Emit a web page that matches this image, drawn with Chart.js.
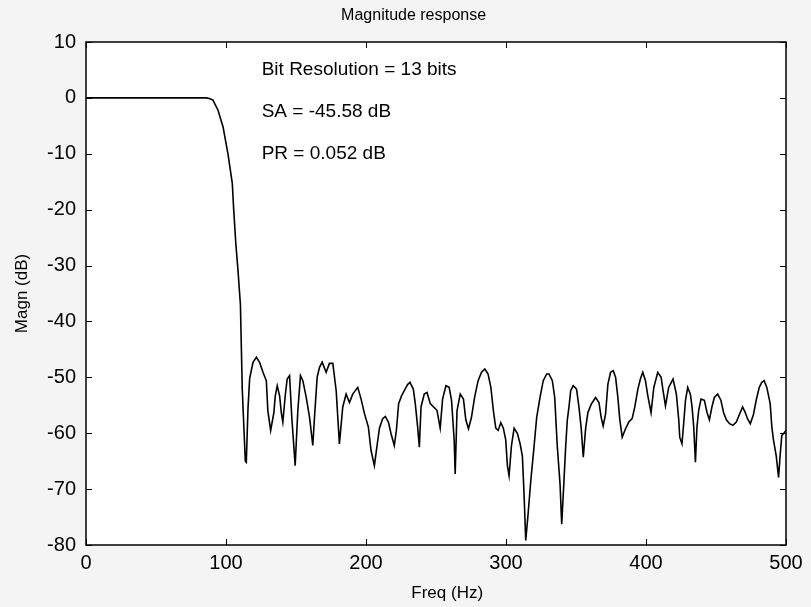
<!DOCTYPE html>
<html>
<head>
<meta charset="utf-8">
<script src="https://cdn.jsdelivr.net/npm/chart.js@4/dist/chart.umd.min.js"></script>
<style>
  html, body { margin: 0; padding: 0; background: #f4f4f4; }
  #wrap { width: 811px; height: 607px; }
</style>
</head>
<body>
<div id="wrap"><canvas id="magchart"></canvas></div>
<script>
// frequency axis (Hz) and magnitude (dB)
const freq = [0, 20, 40, 60, 80, 86, 88, 90.7, 94.3, 97.9, 101.4, 104.5, 105.5, 107, 108.6, 110.3, 111, 111.6, 112.6, 113.8, 114.5,
  115.7, 116.9, 119.3, 121.7, 124.0, 126.4, 128.8, 129.9, 131.9, 134.2, 135.2, 136.6, 138.3, 139.5, 140.6, 142.3, 143.7, 145.4, 147.0, 149.4,
  151.3, 153.2, 154.9, 157.3, 159.7, 162.0, 163.2, 165.1, 166.8, 168.7, 171.5, 173.9, 176.3, 178.7, 181.0, 183.4, 185.8, 188.2, 190.5, 194.1,
  196.5, 198.9, 201.7, 203.6, 206.0, 207.9, 209.6, 211.9, 213.8, 216.0, 217.9, 220.2, 221.7, 223.3, 225.4, 227.9, 229.7, 231.4, 233.8, 235.2,
  236.9, 238.1, 239.3, 241.6, 243.6, 245.9, 248.3, 250.7, 253.0, 254.7, 257.1, 259.4, 261.1, 263.0, 263.7, 265.0, 267.3, 269.6, 271.3, 273.2,
  275.3, 277.7, 280.1, 282.5, 284.9, 287.2, 289.2, 291.0, 292.7, 294.4, 296.3, 298.1, 299.8, 301.0, 302.2, 303.9, 305.8, 308.1, 310.0, 311.7,
  312.9, 314.1, 315.8, 317.7, 320.0, 321.9, 324.3, 326.6, 329.1, 330.7, 333.1, 334.8, 336.6, 338.6, 339.8, 341.4, 342.6, 343.8, 345.0, 346.2,
  348.0, 350.4, 352.1, 353.7, 355.2, 356.9, 358.5, 360.9, 364.0, 366.4, 368.0, 369.4, 371.1, 372.8, 374.7, 376.6, 378.3, 379.9, 381.3, 383.0,
  385.4, 387.7, 390.1, 392.0, 394.2, 396.1, 397.7, 399.6, 401.3, 403.6, 405.6, 408.4, 410.8, 412.2, 413.9, 416.2, 419.3, 421.7, 423.4, 424.1,
  425.7, 426.9, 428.2, 429.8, 431.7, 432.9, 434.1, 435.3, 436.4, 437.6, 439.3, 441.7, 443.6, 445.3, 447.1, 448.8, 451.2, 453.5, 455.4, 457.4,
  459.7, 462.1, 464.5, 466.8, 469.0, 470.9, 472.5, 474.5, 476.8, 478.7, 480.9, 482.7, 484.4, 486.3, 488.7, 489.9, 491.1, 493.0, 494.7, 495.9,
  497.0, 498.2, 500];
const magn = [0, 0, 0, 0, 0, 0, -0.1, -0.4, -2.2, -5.2, -10, -15.3, -20, -26, -31, -37, -45, -52, -58, -65, -65.2,
  -55.6, -50.2, -47.3, -46.4, -47.3, -49.1, -50.6, -56, -59.5, -56.3, -53.3, -51.5, -53.3, -56.3, -58, -53.3, -50.3, -49.7, -57.2, -65.8,
  -56, -49.7, -50.6, -53.6, -57.2, -62.2, -57.2, -50, -48.2, -47.3, -49.1, -47.5, -47.5, -52.4, -61.9, -55.3, -53, -54.5, -53, -51.8,
  -53.9, -56.5, -58.9, -63.1, -65.8, -62.2, -59.1, -57.4, -57, -58, -60.1, -62.2, -59.5, -54.7, -53.3, -52.1, -51.3, -50.9, -52.1, -54.7,
  -58.9, -62.5, -55.3, -53, -52.7, -54.7, -55.3, -55.9, -59.1, -53.9, -51.5, -51.8, -54.1, -61.3, -67.3, -56, -53, -53.9, -57.6, -59.2,
  -57.2, -53.4, -50.6, -49.1, -48.5, -49.4, -51.8, -56, -59.1, -59.5, -58.1, -59.1, -61.2, -65.8, -67.6, -62.2, -59.1, -60, -61.8, -64.1,
  -70.9, -79.2, -74.4, -68.5, -62.5, -57.2, -53.6, -50.6, -49.4, -49.4, -50.6, -53.6, -62.2, -69.1, -76.3, -68.5, -62.5, -57.6, -55.3, -52.4,
  -51.5, -52.1, -55.3, -59.1, -64.3, -59.1, -56.3, -54.8, -53.6, -54.5, -57.2, -58.7, -56.6, -51.2, -49.1, -48.8, -50, -53.6, -57.6, -60.7,
  -59.2, -58, -57.4, -55.3, -52.1, -50.2, -49.1, -50.6, -53.3, -56.3, -51.8, -49.1, -50, -52.4, -55.1, -51.8, -50.3, -53, -57.6, -60.7,
  -61.9, -58.3, -54.1, -51.8, -53, -55.3, -58.9, -65.2, -58.9, -56, -53.9, -54.1, -56.3, -57.6, -55.3, -53.6, -53, -54.1, -56.3, -57.6,
  -58.3, -58.6, -58, -56.6, -55.3, -56.3, -57.4, -58.3, -56.6, -54.1, -51.8, -50.9, -50.6, -51.8, -54.7, -58.9, -61.3, -64, -67.9, -63.7,
  -60.4, -60.1, -59.5];

const xTicks = [0, 100, 200, 300, 400, 500];
const yTicks = [10, 0, -10, -20, -30, -40, -50, -60, -70, -80];
const notes = ['Bit Resolution = 13 bits', 'SA = -45.58 dB', 'PR = 0.052 dB'];
const noteY = [5, -2.5, -10];
const titleText = 'Magnitude response';
const xLabel = 'Freq (Hz)';

const fam = '"Liberation Sans", Arial, sans-serif';

// grey figure background, white axes box, inward ticks, title and annotations
const matlabLook = {
  id: 'matlabLook',
  beforeDraw(chart) {
    const c = chart.ctx, a = chart.chartArea;
    c.save();
    c.fillStyle = '#f4f4f4';
    c.fillRect(0, 0, chart.width, chart.height);
    c.fillStyle = '#fff';
    c.fillRect(a.left, a.top, a.right - a.left, a.bottom - a.top);
    c.restore();
  },
  afterDraw(chart) {
    const c = chart.ctx, a = chart.chartArea;
    const xs = chart.scales.x, ys = chart.scales.y;
    c.save();
    c.strokeStyle = '#000';
    c.lineWidth = 1;
    c.beginPath();
    xTicks.forEach(v => {
      const px = Math.round(xs.getPixelForValue(v)) + 0.5;
      c.moveTo(px, a.bottom); c.lineTo(px, a.bottom - 6);
      c.moveTo(px, a.top); c.lineTo(px, a.top + 6);
    });
    yTicks.forEach(v => {
      const py = Math.round(ys.getPixelForValue(v)) + 0.5;
      c.moveTo(a.left, py); c.lineTo(a.left + 6, py);
      c.moveTo(a.right, py); c.lineTo(a.right - 6, py);
    });
    c.stroke();
    c.lineWidth = 1.5;
    c.strokeRect(a.left, a.top, a.right - a.left, a.bottom - a.top);

    c.fillStyle = '#000';
    c.textBaseline = 'middle';
    c.font = '19px ' + fam;
    notes.forEach((t, i) => {
      c.fillText(t, xs.getPixelForValue(125.5), ys.getPixelForValue(noteY[i]));
    });
    c.textAlign = 'center';
    c.font = '16px ' + fam;
    c.fillText(titleText, xs.getPixelForValue(234), a.top - 26);
    c.font = '17px ' + fam;
    c.fillText(xLabel, xs.getPixelForValue(258), a.bottom + 48);
    c.restore();
  }
};

const ctx = document.getElementById('magchart').getContext('2d');
const magChart = new Chart(ctx, {
  type: 'line',
  data: {
    datasets: [{
      data: freq.map((f, i) => ({x: f, y: magn[i]})),
      borderColor: '#000',
      borderWidth: 1.6,
      pointRadius: 0,
      fill: false,
      tension: 0
    }]
  },
  options: {
    responsive: true,
    maintainAspectRatio: false,
    animation: false,
    layout: {padding: {right: 25, left: 0, bottom: 0, top: 42}},
    plugins: {
      legend: {display: false},
      tooltip: {enabled: false},
      title: {display: false}
    },
    scales: {
      x: {
        type: 'linear',
        min: 0, max: 500,
        afterFit(s) { s.height = 62; },
        afterBuildTicks(s) { s.ticks = xTicks.map(v => ({value: v})); },
        grid: {display: false, drawTicks: false},
        border: {display: false},
        ticks: {color: '#000', padding: 6, maxRotation: 0, font: {family: fam, size: 20}}
      },
      y: {
        min: -80, max: 10,
        afterFit(s) { s.width = 86; },
        afterBuildTicks(s) { s.ticks = yTicks.map(v => ({value: v})); },
        grid: {display: false, drawTicks: false},
        border: {display: false},
        ticks: {color: '#000', padding: 10, font: {family: fam, size: 20}},
        title: {display: true, text: 'Magn (dB)', color: '#000', padding: {top: 12, bottom: 0}, font: {family: fam, size: 17}}
      }
    }
  },
  plugins: [matlabLook]
});
</script>
</body>
</html>
